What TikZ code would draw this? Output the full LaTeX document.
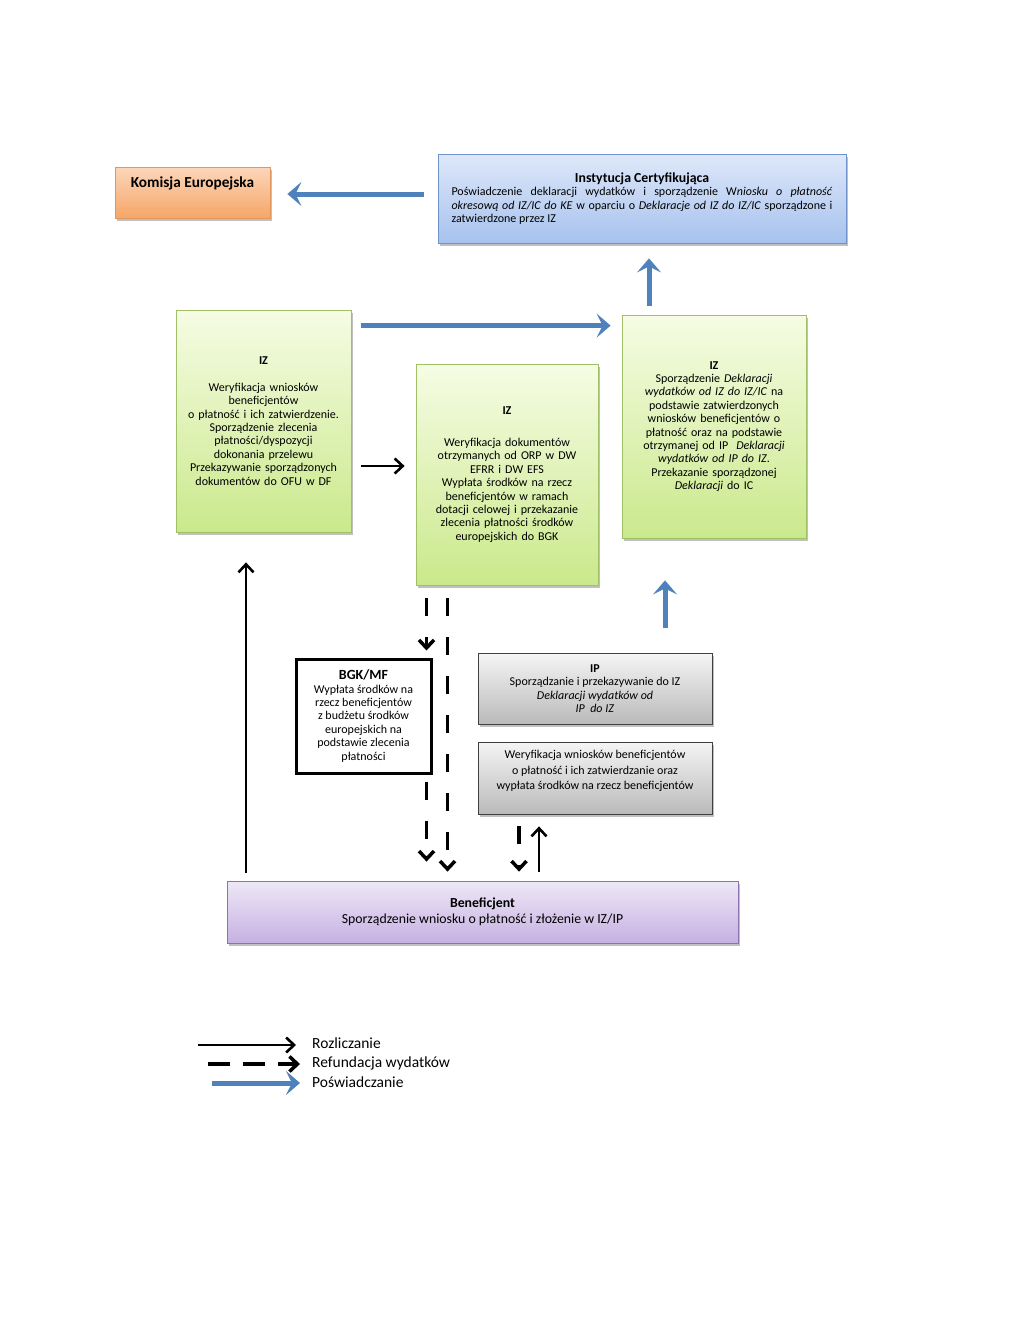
\documentclass[tikz,border=0pt]{standalone}
\usepackage{fontspec}
\setmainfont{Carlito}
\usetikzlibrary{arrows.meta,shadows}

\definecolor{certblue}{RGB}{79,129,189}
\newcommand{\boxfont}{\fontsize{12}{13.4}\selectfont}

\tikzset{
  box/.style={draw, line width=0.8pt, inner sep=0pt, align=center, font=\boxfont,
    drop shadow={shadow xshift=1.5pt, shadow yshift=-3pt, opacity=0.35, fill=black!70}},
  orangebox/.style={box, draw={rgb,255:red,226;green,150;blue,96}, top color={rgb,255:red,252;green,214;blue,186}, bottom color={rgb,255:red,246;green,166;blue,104}},
  bluebox/.style={box, draw={rgb,255:red,112;green,146;blue,202}, top color={rgb,255:red,222;green,232;blue,249}, bottom color={rgb,255:red,166;green,194;blue,238}},
  greenbox/.style={box, draw={rgb,255:red,160;green,192;blue,104}, top color={rgb,255:red,246;green,252;blue,228}, bottom color={rgb,255:red,202;green,233;blue,140}},
  graybox/.style={box, draw=black!75, top color=black!4, bottom color=black!27},
  purplebox/.style={box, draw={rgb,255:red,140;green,116;blue,174}, top color={rgb,255:red,238;green,232;blue,246}, bottom color={rgb,255:red,198;green,176;blue,226}},
  certarrow/.style={line width=5pt, draw=certblue, -{Stealth[length=14pt,width=24pt,inset=6pt]}},
  settlearrow/.style={line width=2.6pt, -{Straight Barb[length=8pt,width=15pt]}},
  refundarrow/.style={settlearrow, line width=3.5pt, dash pattern=on 18pt off 21pt},
  legendtext/.style={anchor=west, inner sep=0pt, font=\fontsize{15.5}{17}\selectfont}
}

\begin{document}
\begin{tikzpicture}[x=1pt, y=-1pt]
\fill[white] (0,0) rectangle (1024,1327);
\useasboundingbox (0,0) rectangle (1024,1327);

\node[orangebox, minimum width=155pt, minimum height=51pt, text depth=20pt, font=\fontsize{15.3}{17}\selectfont\bfseries] (ke) at (192.5,192.5) {Komisja Europejska};
\node[bluebox, minimum width=408pt, minimum height=89pt, text width=381pt, align=justify] (ic) at (642,198.5) {{\centering\fontsize{13.8}{14}\selectfont\bfseries Instytucja Certyfikująca\par}
Poświadczenie deklaracji wydatków i sporządzenie W\textit{niosku o płatność}\linebreak
\textit{okresową od IZ/IC do KE} w oparciu o \textit{Deklaracje od IZ do IZ/IC} sporządzone i\linebreak
zatwierdzone przez IZ\par\vspace{-5pt}};

\node[greenbox, minimum width=175pt, minimum height=222pt, text width=170pt] (izl) at (263.5,421) {\textbf{IZ}\\[13.4pt]
Weryfikacja wniosków\\ beneficjentów\\ o płatność i ich zatwierdzenie.\\ Sporządzenie zlecenia\\ płatności/dyspozycji\\ dokonania przelewu\\ Przekazywanie sporządzonych\\ dokumentów do OFU w DF};
\node[greenbox, minimum width=182pt, minimum height=221pt, text width=176pt] (izm) at (507,474.5) {\textbf{IZ}\\[18.6pt]
Weryfikacja dokumentów\\ otrzymanych od ORP w DW\\ EFRR i DW EFS\\ Wypłata środków na rzecz\\ beneficjentów w ramach\\ dotacji celowej i przekazanie\\ zlecenia płatności środków\\ europejskich do BGK};
\node[greenbox, minimum width=184pt, minimum height=223pt, text width=178pt] (izr) at (714,426.5) {\textbf{IZ}\\
Sporządzenie \textit{Deklaracji}\\ \textit{wydatków od IZ do IZ/IC} na\\ podstawie zatwierdzonych\\ wniosków beneficjentów o\\ płatność oraz na podstawie\\ otrzymanej od IP\ \ \textit{Deklaracji}\\ \textit{wydatków od IP do IZ}.\\ Przekazanie sporządzonej\\ \textit{Deklaracji} do IC};

\node[draw, line width=3pt, fill=white, inner sep=0pt, align=center, font=\boxfont, minimum width=135pt, minimum height=114pt] (bgk) at (363.5,716) {{\fontsize{14}{13.4}\selectfont\bfseries BGK/MF}\\ Wypłata środków na\\ rzecz beneficjentów\\ z budżetu środków\\ europejskich na\\ podstawie zlecenia\\ płatności};

\node[graybox, minimum width=234pt, minimum height=71pt] (ip) at (595,688.5) {\textbf{IP}\\ Sporządzanie i przekazywanie do IZ\\ \textit{Deklaracji wydatków od}\\ \textit{IP\ \ do IZ}};
\node[graybox, minimum width=234pt, minimum height=72pt, font=\fontsize{12}{15.5}\selectfont, text depth=16pt] (ipw) at (595,778) {Weryfikacja wniosków beneficjentów\\ o płatność i ich zatwierdzanie oraz\\ wypłata środków na rzecz beneficjentów};

\node[purplebox, minimum width=511pt, minimum height=62pt, font=\fontsize{13.8}{16}\selectfont] (ben) at (482.5,912) {\textbf{Beneficjent}\\ Sporządzenie wniosku o płatność i złożenie w IZ/IP};

% poswiadczanie
\draw[certarrow] ([xshift=-14pt,yshift=4.5pt]ic.west) -- ([xshift=17pt,yshift=-1.5pt]ke.east);
\draw[certarrow] ([xshift=7pt,yshift=9pt]izr.north -| ic.south) -- ([xshift=7pt,yshift=-15pt]ic.south);
\draw[certarrow] ([xshift=10pt,yshift=-16pt]izl.north east) -- ([xshift=-11pt,yshift=-16pt]izl.north east -| izr.west);
\draw[certarrow] ([xshift=70pt,yshift=25pt]ip.north) -- ([xshift=70pt,yshift=-42pt]ip.north |- izr.south);

% rozliczanie
\draw[settlearrow] ([xshift=10pt,yshift=-45pt]izl.east) -- ([xshift=-11pt,yshift=-45pt]izl.east -| izm.west);
\draw[settlearrow] ([xshift=-17.5pt,yshift=8pt]izl.south |- ben.north) -- ([xshift=-17.5pt,yshift=-30pt]izl.south);
\draw[settlearrow] ([xshift=-56pt,yshift=9pt]ipw.south |- ben.north) -- ([xshift=-56pt,yshift=-12pt]ipw.south);

% refundacja
\draw[refundarrow] ([xshift=-6pt,yshift=-13pt]bgk.north east |- izm.south) -- ([xshift=-6pt,yshift=7pt]bgk.north east);
\draw[refundarrow] ([xshift=15pt,yshift=-13pt]bgk.north east |- izm.south) -- ([xshift=15pt,yshift=9pt]bgk.north east |- ben.north);
\draw[refundarrow] ([xshift=-6pt,yshift=-7pt]bgk.south east) -- ([xshift=-6pt,yshift=19pt]bgk.south east |- ben.north);
\draw[refundarrow] ([xshift=-76pt,yshift=-12pt]ipw.south) -- ([xshift=-76pt,yshift=9pt]ipw.south |- ben.north);

% legenda
\node[legendtext] (lrozl) at (312,1043) {Rozliczanie};
\node[legendtext] (lrefund) at (312,1063) {Refundacja wydatków};
\node[legendtext] (lposw) at (312,1082) {Poświadczanie};
\draw[settlearrow] ([xshift=-114pt,yshift=-2pt]lrozl.west) -- ([xshift=-16pt,yshift=-2pt]lrozl.west);
\draw[refundarrow, dash pattern=on 22pt off 13pt] ([xshift=-104pt,yshift=-1pt]lrefund.west) -- ([xshift=-12pt,yshift=-1pt]lrefund.west);
\draw[certarrow] ([xshift=-100pt,yshift=-1pt]lposw.west) -- ([xshift=-12pt,yshift=-1pt]lposw.west);
\end{tikzpicture}
\end{document}
